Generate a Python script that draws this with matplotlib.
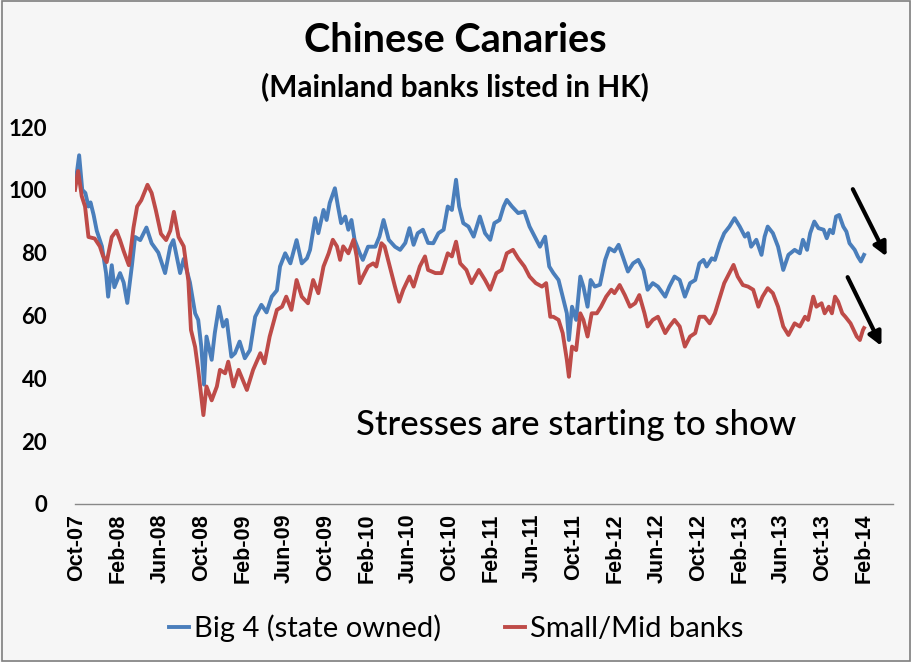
import matplotlib
matplotlib.use("Agg")
import matplotlib.pyplot as plt
from matplotlib.patches import Rectangle

# months since Oct-2007
big4_x = [-0.2, 0.2, 0.5, 0.8, 1.1, 1.3, 1.6, 1.9, 2.4, 2.8, 3.0, 3.35, 3.6, 4.15, 4.5, 4.85, 5.3, 5.6, 6.1, 6.7,
          7.2, 7.85, 8.5, 9.0, 9.3, 9.95, 10.3, 10.9,
          11.4, 11.7, 12.0, 12.26, 12.5, 13.0, 13.3, 13.7, 14.1, 14.45, 14.9, 15.25, 15.7, 16.2, 16.7, 17.2, 17.8,
          18.3, 18.8, 19.3, 19.6, 20.1, 20.6, 21.2, 21.7, 22.2, 22.5,
          23.0, 23.3, 23.8, 24.1, 24.4, 24.9, 25.2, 25.5, 25.9, 26.2, 26.5, 26.8, 27.3, 27.6, 28.1, 28.8, 29.2, 29.6,
          30.1, 30.7, 31.2, 31.7, 32.1, 32.5, 32.9, 33.4, 33.9,
          34.4, 34.9, 35.4, 35.8, 36.2, 36.6, 36.9, 37.3, 37.8, 38.3, 38.9, 39.4, 39.9, 40.3, 40.8, 41.2, 41.5, 42.0,
          42.6, 43.2, 43.7, 44.2, 44.7, 45.2, 45.6,
          46.0, 46.5, 46.9, 47.3, 47.5, 47.8, 48.2, 48.6, 48.9, 49.3, 49.6, 50.0, 50.5, 51.0, 51.4, 51.9, 52.3, 52.7,
          53.2, 53.7, 54.2, 54.7, 55.1, 55.6, 56.1, 56.8, 57.2,
          57.7, 58.2, 58.7, 59.2, 59.7, 60.1, 60.5, 60.8, 61.3, 61.6, 62.1, 62.5, 63.0, 63.5, 64.0, 64.5, 64.8, 65.1,
          65.6, 66.1, 66.4, 66.7, 67.2, 67.7, 68.2, 68.7,
          69.3, 69.8, 70.1, 70.5, 70.8, 71.2, 71.6, 72.1, 72.4, 72.7, 73.0, 73.3, 73.6, 74.0, 74.3, 74.6, 75.1, 75.4,
          75.7, 76.0]
big4_y = [101, 111, 100, 99, 94.7, 96, 92, 87, 82, 73.5, 66, 76, 69, 73.5, 70.5, 64, 76, 85, 84, 88,
          83, 80, 73.5, 82, 84, 73.5, 78, 70.5,
          60.7, 58.6, 50, 38, 53.3, 45.9, 54.4, 62.8, 56.5, 58.6, 46.9, 48, 51.7, 46.4, 49, 59.6, 63.4,
          61, 66, 68, 75.6, 79.8, 76.6, 84, 76.6, 78.2, 80.9,
          91, 86.2, 93.6, 90.4, 95.8, 100.5, 94.7, 89.4, 91.5, 87.3, 90.4, 84.1, 79.8, 77.7, 81.9, 81.9, 85.1, 90.4,
          84.1, 81.9, 80.9, 83.1, 87.8, 82.5, 86.2, 87.3, 83.1,
          83, 86.2, 87.3, 94.7, 93.6, 103.2, 94.7, 89.4, 88.3, 85.1, 91.5, 86.2, 84.1, 89.4, 90.4, 94.7, 96.8, 94.7,
          92.6, 93.1, 88.3, 85.1, 81.9, 85.1, 75.6,
          73.5, 71.3, 66, 60.7, 52.2, 62.8, 58.6, 72.4, 69.2, 62.8, 71.3, 69.2, 69.8, 77.7, 81.4, 80.4, 82.5, 78.8,
          74, 76.6, 77.7, 74.5, 68.2, 70.3, 69.2, 66, 69.2,
          72.4, 71.3, 66, 70.3, 71.3, 76.6, 77.7, 75.6, 78.2, 77.7, 83, 86.2, 88.3, 91, 88.3, 85.1, 86.2, 81.9,
          84.1, 79.3, 85.1, 88.3, 86.2, 81.9, 74.5, 79.3,
          80.9, 79.8, 84.1, 80.9, 86.2, 89.9, 87.8, 87.3, 84.6, 87.3, 86.2, 91.5, 92, 88.3, 86.7, 83, 80.9, 78.8,
          77.2, 79.3]

small_x = [-0.2, 0.1, 0.45, 0.77, 1.1, 1.7, 2.2, 2.5, 2.86, 3.35, 3.8, 4.15, 4.5, 5.0, 5.45, 5.8, 6.2, 6.8, 7.2,
           7.6, 8.1, 8.6, 9.0, 9.35, 9.8, 10.3, 10.75, 11.0,
           11.4, 11.7, 12.2, 12.5, 13.0, 13.5, 13.8, 14.3, 14.6, 15.1, 15.6, 16.4, 17.0, 17.7, 18.1, 18.6, 19.3,
           19.8, 20.2, 20.7, 21.2, 21.7, 22.3,
           22.8, 23.3, 23.8, 24.3, 24.7, 25.1, 25.4, 25.7, 26.2, 26.7, 27.0, 27.3, 27.6, 28.1, 28.6, 28.9, 29.4,
           29.7, 30.2, 30.7, 31.1, 31.5, 32.1, 32.5, 33.1, 33.6, 33.9,
           34.6, 35.2, 35.8, 36.2, 36.6, 37.0, 37.6, 38.1, 38.8, 39.4, 39.9, 40.5, 41.0, 41.5, 42.1, 42.6, 43.2,
           43.7, 44.3, 44.9, 45.3, 45.7,
           46.0, 46.5, 46.9, 47.3, 47.5, 47.8, 48.2, 48.6, 48.9, 49.3, 49.7, 50.2, 50.6, 51.1, 51.6, 51.9, 52.4,
           52.9, 53.4, 53.9, 54.3, 54.8, 55.1, 55.6, 56.1, 56.8, 57.2,
           57.7, 58.2, 58.7, 59.2, 59.7, 60.1, 60.6, 61.1, 61.6, 62.1, 62.5, 63.0, 63.4, 63.8, 64.3, 64.8, 65.3,
           65.8, 66.2, 66.7, 67.2, 67.7, 68.2, 68.7,
           69.3, 69.8, 70.3, 70.6, 71.1, 71.4, 71.9, 72.2, 72.6, 72.9, 73.2, 73.5, 73.9, 74.2, 74.7, 75.0, 75.3,
           75.6, 75.9, 76.0]
small_y = [100, 106, 98, 94.7, 85, 84.5, 82, 79, 77, 85, 87, 84, 80.5, 76, 88, 94.7, 96.7, 101.6, 99,
           93.6, 86, 84, 87, 93, 85, 82, 71, 55.4,
           50, 42.7, 28.3, 37.4, 33, 37.4, 42.7, 41.6, 45.3, 37.4, 42.7, 36.3, 42.7, 48, 44.8, 53.3, 61.8,
           62.8, 66, 61.8, 71.3, 66, 63.9,
           71.3, 67.1, 75.6, 79.8, 84.1, 82, 77.7, 82, 79.8, 84.1, 78.8, 70.3, 72.4, 75.6, 76.6, 75.6, 83,
           82, 75.6, 69.2, 64.4, 68.2, 72.4, 69.2, 75.6, 78.8, 74.5,
           73.5, 73.5, 79.8, 78.8, 83.5, 76.6, 74.5, 70.3, 74.5, 71.3, 68.2, 73.5, 74.5, 79.8, 80.9, 78.2, 75.6,
           72.4, 70.3, 69.2, 70.3, 59.6,
           59.6, 58.6, 54.4, 45.9, 40.5, 50.1, 49, 60.7, 58.6, 53.3, 60.7, 60.7, 62.8, 66, 68.2, 67.1, 69.7,
           66.5, 62.8, 63.9, 66.5, 60.7, 56.5, 58.6, 59.6, 54.4, 56.5,
           58.6, 56.5, 50.1, 53.3, 54.4, 59.6, 59.6, 57.5, 60.7, 66, 70.3, 73.5, 76.1, 72.4, 69.7, 69.2, 68.2,
           62.8, 66, 68.7, 67.1, 62.8, 56.5, 53.8,
           57.5, 56.5, 59.6, 58.6, 66, 62.8, 63.9, 60.7, 62.8, 60.7, 66, 64.4, 60.7, 59.6, 57.5, 55.4, 53.3,
           52.2, 55.4, 56]

tick_pos = list(range(0, 77, 4))
tick_labels = ["Oct-07", "Feb-08", "Jun-08", "Oct-08", "Feb-09", "Jun-09", "Oct-09", "Feb-10", "Jun-10",
               "Oct-10", "Feb-11", "Jun-11", "Oct-11", "Feb-12", "Jun-12", "Oct-12", "Feb-13", "Jun-13",
               "Oct-13", "Feb-14"]
y_ticks = [0, 20, 40, 60, 80, 100, 120]

BLUE = "#4a7ebb"
RED = "#be4b48"
BG = "#f6f6f6"

fig = plt.figure(figsize=(9.12, 6.62), dpi=100, facecolor=BG)
ax = fig.add_axes([75 / 912, 1 - 504 / 662, (893 - 75) / 912, (504 - 127) / 662])
ax.set_facecolor(BG)

l1, = ax.plot(big4_x, big4_y, color=BLUE, lw=2.8, label="Big 4 (state owned)", solid_joinstyle="round")
l2, = ax.plot(small_x, small_y, color=RED, lw=2.8, label="Small/Mid banks", solid_joinstyle="round")

ax.set_xlim(-0.2, 78.8)
ax.set_ylim(0, 120)
ax.set_yticks(y_ticks)
ax.set_yticklabels([str(v) for v in y_ticks], fontfamily="Lato", fontweight="bold", fontsize=16)
ax.set_xticks(tick_pos)
ax.set_xticklabels(tick_labels, rotation=90, fontfamily="Liberation Sans", fontweight="bold", fontsize=15.5)
ax.tick_params(axis="y", length=0, pad=20)
ax.tick_params(axis="x", length=0, pad=7)
for s in ["top", "right", "left"]:
    ax.spines[s].set_visible(False)
ax.spines["bottom"].set_color("#888888")
ax.spines["bottom"].set_linewidth(1)

# arrows
ax.annotate("", xy=(78.3, 78), xytext=(74.8, 101),
            arrowprops=dict(arrowstyle="-|>", color="black", lw=3, mutation_scale=20))
ax.annotate("", xy=(77.8, 49.5), xytext=(74.3, 73),
            arrowprops=dict(arrowstyle="-|>", color="black", lw=3, mutation_scale=20))

ax.text(0.613, 0.21, "Stresses are starting to show", transform=ax.transAxes, ha="center", va="center",
        fontfamily="Lato", fontsize=25, fontweight="medium", color="black")

fig.text(455 / 912, 1 - 40 / 662, "Chinese Canaries", ha="center", va="center",
         fontfamily="Lato", fontweight="bold", fontsize=28.5)
fig.text(455 / 912, 1 - 87 / 662, "(Mainland banks listed in HK)", ha="center", va="center",
         fontfamily="Lato", fontweight="bold", fontsize=21.5)

leg = fig.legend(handles=[l1, l2], loc="center", bbox_to_anchor=(456 / 912, 1 - 628 / 662), ncol=2,
                 frameon=False, prop=dict(family="Lato", size=21), handlelength=0.7, handletextpad=0.15,
                 columnspacing=2.2)

fig.patches.append(Rectangle((0.002, 0.002), 0.996, 0.996, transform=fig.transFigure, fill=False,
                             edgecolor="#7f7f7f", lw=1.2))

fig.savefig("out.png", dpi=100, facecolor=BG)
